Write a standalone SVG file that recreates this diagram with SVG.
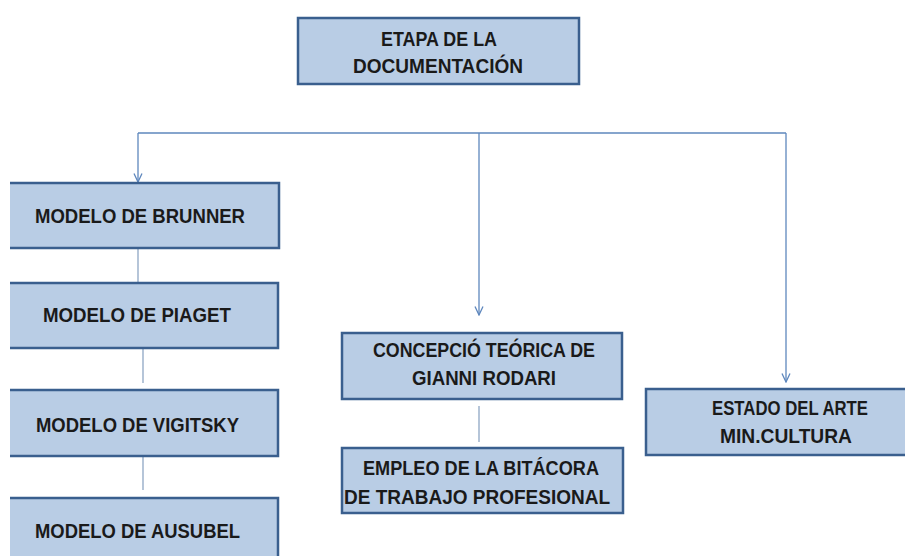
<svg xmlns="http://www.w3.org/2000/svg" width="905" height="556" viewBox="0 0 905 556">
<style>
.box{fill:#B9CDE5;stroke:#3A5F8E;stroke-width:2.5}
.t{font-family:"Liberation Sans",Arial,sans-serif;font-weight:bold;font-size:20px;fill:#1a1a1a;text-anchor:middle}
.c{fill:none;stroke:#5E87BD;stroke-width:1.3}
.p{fill:none;stroke:#8EA6C4;stroke-width:1.3}
</style>
<defs>
<marker id="ah" viewBox="0 0 10 10" refX="9.5" refY="5" markerWidth="10" markerHeight="10" markerUnits="userSpaceOnUse" orient="auto">
<path d="M1,1 L9.5,5 L1,9" fill="none" stroke="#5E87BD" stroke-width="1.3"/>
</marker>
<clipPath id="cl"><rect x="10" y="0" width="895" height="556"/></clipPath>
</defs>
<rect width="905" height="556" fill="#fff"/>
<g id="connectors">
<path class="c" d="M138,133 H786"/>
<path class="c" d="M138,133 V182" marker-end="url(#ah)"/>
<path class="c" d="M479,133 V315" marker-end="url(#ah)"/>
<path class="c" d="M786,133 V382" marker-end="url(#ah)"/>
<path class="p" d="M138,248 V283"/>
<path class="p" d="M143,348 V383"/>
<path class="p" d="M143,456 V490"/>
<path class="p" d="M479,406 V442"/>
</g>
<g id="etapa">
<rect class="box" x="298" y="18" width="281" height="66"/>
<text class="t" x="439" y="46" textLength="116" lengthAdjust="spacingAndGlyphs">ETAPA DE LA</text>
<text class="t" x="438" y="73" textLength="170" lengthAdjust="spacingAndGlyphs">DOCUMENTACIÓN</text>
</g>
<g clip-path="url(#cl)">
<g id="brunner">
<rect class="box" x="-10" y="183" width="289" height="65"/>
<text class="t" x="140" y="223" textLength="210" lengthAdjust="spacingAndGlyphs">MODELO DE BRUNNER</text>
</g>
<g id="piaget">
<rect class="box" x="-10" y="283" width="288" height="65"/>
<text class="t" x="137" y="322" textLength="188" lengthAdjust="spacingAndGlyphs">MODELO DE PIAGET</text>
</g>
<g id="vigitsky">
<rect class="box" x="-10" y="390" width="288" height="66"/>
<text class="t" x="137.5" y="432" textLength="203" lengthAdjust="spacingAndGlyphs">MODELO DE VIGITSKY</text>
</g>
<g id="ausubel">
<rect class="box" x="-10" y="498" width="288" height="80"/>
<text class="t" x="137.5" y="538" textLength="205" lengthAdjust="spacingAndGlyphs">MODELO DE AUSUBEL</text>
</g>
</g>
<g id="rodari">
<rect class="box" x="342" y="333" width="280" height="66"/>
<text class="t" x="484" y="357" textLength="222" lengthAdjust="spacingAndGlyphs">CONCEPCIÓ TEÓRICA DE</text>
<text class="t" x="484" y="385" textLength="144" lengthAdjust="spacingAndGlyphs">GIANNI RODARI</text>
</g>
<g id="bitacora">
<rect class="box" x="342" y="448" width="281" height="65"/>
<text class="t" x="481" y="475" textLength="236" lengthAdjust="spacingAndGlyphs">EMPLEO DE LA BITÁCORA</text>
<text class="t" x="477" y="504" textLength="266" lengthAdjust="spacingAndGlyphs">DE TRABAJO PROFESIONAL</text>
</g>
<g id="estado">
<rect class="box" x="646" y="389" width="280" height="66"/>
<text class="t" x="790" y="415" textLength="156" lengthAdjust="spacingAndGlyphs">ESTADO DEL ARTE</text>
<text class="t" x="786" y="443" textLength="132" lengthAdjust="spacingAndGlyphs">MIN.CULTURA</text>
</g>
</svg>
